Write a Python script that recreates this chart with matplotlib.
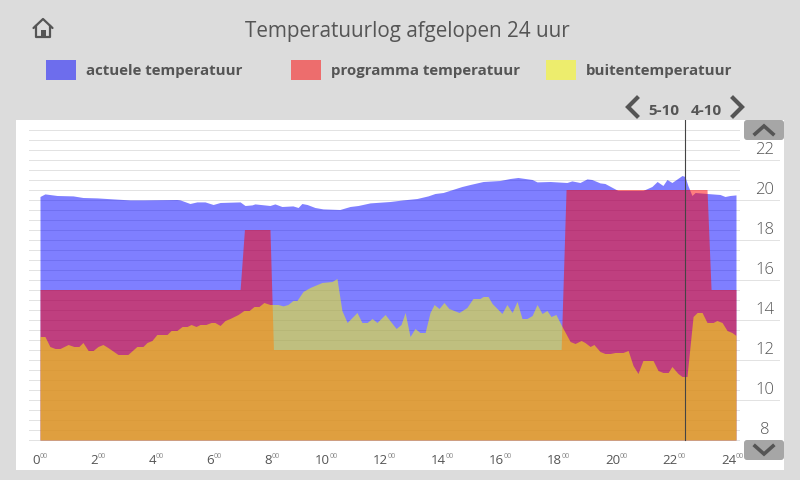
import numpy as np
import matplotlib
matplotlib.use("Agg")
import matplotlib.pyplot as plt
from matplotlib.patches import FancyBboxPatch, Rectangle

plt.rcParams['font.family'] = ['Open Sans', 'DejaVu Sans']

actueel_uur = [0, .17, .59, 1.14, 1.48, 1.97, 2.52, 3.1, 3.55, 4.72, 4.83, 5.17, 5.41, 5.69, 5.97, 6.21, 6.9, 7.07,
               7.31, 7.41, 7.93, 8.1, 8.34, 8.72, 8.9, 9.03, 9.21, 9.48, 9.76, 10.34, 10.69, 10.97, 11.38, 12.07,
               12.52, 13.0, 13.38, 13.62, 13.9, 14.55, 14.83, 15.28, 15.86, 16.21, 16.48, 16.97, 17.14, 17.59, 18.17,
               18.34, 18.62, 18.86, 19.03, 19.31, 19.48, 19.93, 20.34, 20.79, 21.1, 21.28, 21.48, 21.62, 21.79,
               22.14, 22.24, 22.34, 22.48, 22.59, 23.0, 23.45, 23.62, 23.79, 24]
actueel_temp = [20.15, 20.28, 20.2, 20.18, 20.1, 20.08, 20.03, 19.98, 19.98, 20.0, 19.98, 19.8, 19.88, 19.88, 19.75, 19.85, 19.88, 19.7,
                19.73, 19.78, 19.7, 19.78, 19.65, 19.68, 19.6, 19.8, 19.75, 19.6, 19.53, 19.5, 19.65, 19.7, 19.83, 19.9,
                19.98, 20.05, 20.18, 20.3, 20.35, 20.65, 20.75, 20.9, 20.95, 21.05, 21.1, 21.0, 20.88, 20.9, 20.85,
                20.93, 20.85, 21.03, 21.0, 20.83, 20.8, 20.45, 20.45, 20.45, 20.65, 20.9, 20.7, 21.0, 20.85,
                21.2, 21.15, 20.7, 20.2, 20.35, 20.3, 20.25, 20.15, 20.2, 20.23]

programma_uur = [0, 6.9, 7.05, 7.93, 8.05, 17.97, 18.14, 23.0, 23.14, 24]
programma_temp = [15.5, 15.5, 18.5, 18.5, 12.5, 12.5, 20.5, 20.5, 15.5, 15.5]

buiten_uur = [0, .17, .34, .52, .69, .97, 1.17, 1.34, 1.48, 1.66, 1.83, 2.0, 2.17, 2.34, 2.69, 3.03, 3.34, 3.55, 3.69,
              3.86, 4.03, 4.38, 4.52, 4.72, 4.9, 5.07, 5.21, 5.38, 5.52, 5.72, 5.9, 6.03, 6.21, 6.38, 6.55, 6.83, 7.03,
              7.21, 7.38, 7.55, 7.72, 7.93, 8.21, 8.38, 8.55, 8.72, 8.86, 9.07, 9.31, 9.72, 10.07, 10.24, 10.41, 10.59,
              10.93, 11.1, 11.28, 11.45, 11.62, 11.9, 12.28, 12.45, 12.59, 12.76, 12.93, 13.1, 13.28, 13.45, 13.59,
              13.76, 13.93, 14.1, 14.45, 14.72, 14.93, 15.17, 15.28, 15.45, 15.59, 15.76, 15.93, 16.1, 16.28, 16.45,
              16.62, 16.79, 16.97, 17.14, 17.31, 17.48, 17.62, 17.79, 18.0, 18.28, 18.45, 18.66, 18.79, 18.97, 19.1,
              19.31, 19.48, 19.66, 19.83, 20.1, 20.28, 20.45, 20.62, 20.79, 21.14, 21.31, 21.48, 21.66, 21.79, 22.0,
              22.14, 22.31, 22.52, 22.66, 22.83, 23.0, 23.21, 23.34, 23.52, 23.69, 23.86, 24]
buiten_temp = [13.15, 13.15, 12.65, 12.55, 12.55, 12.75, 12.65, 12.65, 12.85, 12.45, 12.45, 12.65, 12.75, 12.6, 12.25, 12.25, 12.65, 12.65, 12.85,
               12.95, 13.25, 13.25, 13.45, 13.45, 13.65, 13.65, 13.75, 13.65, 13.75, 13.75, 13.85, 13.85, 13.7, 13.95, 14.05, 14.25, 14.45,
               14.45, 14.65, 14.65, 14.85, 14.75, 14.75, 14.68, 14.75, 14.95, 14.95, 15.4, 15.6, 15.85, 15.9, 16.05, 14.45, 13.85,
               14.35, 13.85, 13.85, 14.05, 13.85, 14.25, 13.55, 13.75, 14.35, 13.15, 13.55, 13.35, 13.35, 14.35, 14.75,
               14.55, 14.85, 14.55, 14.35, 14.6, 15.05, 15.05, 15.15, 15.15, 14.8, 14.55, 14.3, 14.75, 14.35, 14.9,
               14.05, 14.05, 14.2, 14.75, 14.3, 14.45, 14.15, 14.25, 13.65, 12.9, 12.8, 12.95, 12.85, 12.65, 12.75,
               12.4, 12.3, 12.3, 12.35, 12.35, 12.45, 11.7, 11.3, 11.95, 11.95, 11.45, 11.35, 11.35, 11.65, 11.3,
               11.15, 11.15, 14.15, 14.35, 14.35, 13.85, 13.85, 13.95, 13.85, 13.45, 13.35, 13.2]

uren = [0, 2, 4, 6, 8, 10, 12, 14, 16, 18, 20, 22, 24]
graden = [8, 10, 12, 14, 16, 18, 20, 22]
nu = 22.24
legenda = ['actuele temperatuur', 'programma temperatuur', 'buitentemperatuur']
datums = ['5-10', '4-10']

GRIJS = '#555555'

fig = plt.figure(figsize=(8, 4.8), dpi=100, facecolor='#dcdcdc')

# grafiek vlak: witte paneel is 16-784 x 120-470 px
ax = fig.add_axes([16/800, 10/480, 768/800, 350/480])
ax.set_xlim(-24/29, 744/29)
ax.set_ylim(6.475, 23.975)
ax.axis('off')
ax.add_patch(Rectangle((0, 0), 1, 1, transform=ax.transAxes, fc='white', ec='none', zorder=0))

for t in np.arange(8, 24, 0.5):
    if t % 2 == 0 and t > 8:
        ax.plot([-0.38, 25.48], [t, t], color='#e2e2e2', lw=0.72, zorder=1)
    else:
        ax.plot([-0.38, 24.1], [t, t], color='#e2e2e2', lw=0.72, zorder=1)

onder = 7.975
ax.fill_between(actueel_uur, onder, actueel_temp, color=(0, 0, 1), alpha=.5, lw=0, zorder=2)
ax.fill_between(programma_uur, onder, programma_temp, color=(1, 0, 0), alpha=.5, lw=0, zorder=3)
ax.fill_between(buiten_uur, onder, buiten_temp, color=(1, 1, 0), alpha=.5, lw=0, zorder=4)

ax.plot([nu, nu], [onder, 23.975], color='#444444', lw=0.8, zorder=5)

for t in graden:
    ax.text(25.0, t + 0.45, str(t), ha='center', va='center', fontsize=12, color=GRIJS, fontweight=300)
for u in uren:
    ax.text(u, 6.75, str(u), ha='right', va='baseline', fontsize=9.5, color=GRIJS)
    ax.text(u, 7.05, '00', ha='left', va='baseline', fontsize=5, color='#888888')

# alles eromheen in pixels
ov = fig.add_axes([0, 0, 1, 1], zorder=10)
ov.set_xlim(0, 800)
ov.set_ylim(480, 0)
ov.axis('off')
ov.patch.set_alpha(0)

ov.text(407.5, 31, 'Temperatuurlog afgelopen 24 uur', ha='center', va='center', fontsize=14.9, color=GRIJS, fontweight=500)

for x, kleur, naam in zip([46, 291, 546], [(0, 0, 1), (1, 0, 0), (1, 1, 0)], legenda):
    ov.add_patch(Rectangle((x, 60), 30, 20, fc=kleur, alpha=.5, ec='none'))
    ov.text(x + 40, 71, naam, ha='left', va='center', fontsize=10.8, color=GRIJS, fontweight='bold')

ov.text(664, 111, datums[0], ha='center', va='center', fontsize=11, color=GRIJS, fontweight='bold')
ov.text(706, 111, datums[1], ha='center', va='center', fontsize=11, color=GRIJS, fontweight='bold')
ov.plot([637, 628, 637], [98, 107, 116], color=GRIJS, lw=3, solid_joinstyle='miter')
ov.plot([733, 742, 733], [98, 107, 116], color=GRIJS, lw=3, solid_joinstyle='miter')

for y0, ys in [(120, [134, 126, 134]), (440, [446, 454, 446])]:
    ov.add_patch(FancyBboxPatch((746, y0 + 2), 36, 16, boxstyle='round,pad=2,rounding_size=3', fc='#a6a6a6', ec='none'))
    ov.plot([755, 764, 773], ys, color=GRIJS, lw=2.6, solid_joinstyle='miter')

# huisje
ov.plot([33.5, 43, 52.5], [28, 19, 28], color=GRIJS, lw=1.6, solid_capstyle='round')
ov.plot([36, 36, 50, 50], [26, 37, 37, 26], color=GRIJS, lw=1.6)
ov.add_patch(Rectangle((41, 30), 4.5, 7, fc=GRIJS, ec='none'))

fig.savefig('out.png', dpi=100, facecolor=fig.get_facecolor())
